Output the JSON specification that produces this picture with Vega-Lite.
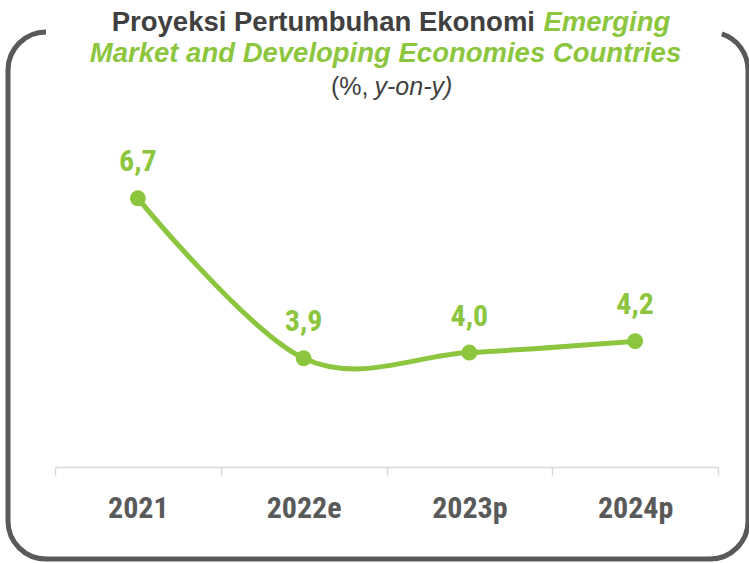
{
  "$schema": "https://vega.github.io/schema/vega-lite/v6.json",
  "width": 740,
  "height": 527,
  "autosize": "none",
  "padding": {"left": 8, "top": 32, "right": 1, "bottom": 4},
  "background": "white",
  "config": {
    "view": {"stroke": "#595959", "strokeWidth": 5, "cornerRadius": 38, "strokeDash": [0, 676, 4000]},
    "text": {"font": "Arial Narrow, Roboto Condensed, Liberation Sans Narrow, Roboto, sans-serif"}
  },
  "layer": [
    {
      "data": {"name": "series", "values": [
        {"year": "2021", "value": 6.7, "label": "6,7"},
        {"year": "2022e", "value": 3.9, "label": "3,9"},
        {"year": "2023p", "value": 4.0, "label": "4,0"},
        {"year": "2024p", "value": 4.2, "label": "4,2"}
      ]},
      "layer": [
        {
          "mark": {"type": "line", "interpolate": "cardinal", "color": "#8CC63F", "strokeWidth": 5},
          "encoding": {
            "x": {"field": "year", "type": "ordinal", "bandPosition": 0.5,
              "scale": {"type": "band", "range": [47, 710], "paddingInner": 0, "paddingOuter": 0},
              "axis": {"title": null, "tickBand": "extent", "domainColor": "#d9d9d9", "domainWidth": 1.5,
                "tickColor": "#d9d9d9", "tickWidth": 1.5, "tickSize": 8, "offset": -92,
                "labelFont": "Arial Narrow, Roboto Condensed, Liberation Sans Narrow, Roboto, sans-serif", "labelFontSize": 30,
                "labelFontWeight": "bold", "labelColor": "#595959", "labelBaseline": "alphabetic",
                "labelPadding": 42, "labelAngle": 0, "grid": false}},
            "y": {"field": "value", "type": "quantitative",
              "scale": {"domain": [0.388, 9.61], "zero": false, "nice": false}, "axis": null}
          }
        },
        {
          "mark": {"type": "point", "filled": true, "opacity": 1, "color": "#8CC63F", "size": 254},
          "encoding": {
            "x": {"field": "year", "type": "ordinal", "bandPosition": 0.5},
            "y": {"field": "value", "type": "quantitative"}
          }
        },
        {
          "mark": {"type": "text", "baseline": "alphabetic", "dy": -27, "fontSize": 30, "fontWeight": "bold", "color": "#8CC63F"},
          "encoding": {
            "x": {"field": "year", "type": "ordinal", "bandPosition": 0.5},
            "y": {"field": "value", "type": "quantitative"},
            "text": {"field": "label"}
          }
        }
      ]
    },
    {
      "data": {"values": [{"t": "Proyeksi Pertumbuhan Ekonomi"}]},
      "mark": {"type": "text", "align": "right", "baseline": "alphabetic", "dx": 148.5, "font": "Liberation Sans", "fontSize": 27.5, "fontWeight": "bold", "color": "#404040"},
      "encoding": {"x": {"datum": "2023p", "bandPosition": 0}, "y": {"datum": 9.628}, "text": {"field": "t"}}
    },
    {
      "data": {"values": [{"t": "Emerging"}]},
      "mark": {"type": "text", "align": "left", "baseline": "alphabetic", "dx": 157, "font": "Liberation Sans", "fontSize": 27.5, "fontWeight": "bold", "fontStyle": "italic", "color": "#8CC63F"},
      "encoding": {"x": {"datum": "2023p", "bandPosition": 0}, "y": {"datum": 9.628}, "text": {"field": "t"}}
    },
    {
      "data": {"values": [{"t": "Market and Developing Economies Countries"}]},
      "mark": {"type": "text", "align": "center", "baseline": "alphabetic", "dx": -1, "font": "Liberation Sans", "fontSize": 27.5, "fontWeight": "bold", "fontStyle": "italic", "color": "#8CC63F"},
      "encoding": {"x": {"datum": "2023p", "bandPosition": 0}, "y": {"datum": 9.086}, "text": {"field": "t"}}
    },
    {
      "data": {"values": [{"t": "(%,"}]},
      "mark": {"type": "text", "align": "right", "baseline": "alphabetic", "dx": -18, "font": "Liberation Sans", "fontSize": 25, "color": "#404040"},
      "encoding": {"x": {"datum": "2023p", "bandPosition": 0}, "y": {"datum": 8.508}, "text": {"field": "t"}}
    },
    {
      "data": {"values": [{"t": "y-on-y)"}]},
      "mark": {"type": "text", "align": "left", "baseline": "alphabetic", "dx": -12, "font": "Liberation Sans", "fontSize": 25, "fontStyle": "italic", "color": "#404040"},
      "encoding": {"x": {"datum": "2023p", "bandPosition": 0}, "y": {"datum": 8.508}, "text": {"field": "t"}}
    }
  ]
}
